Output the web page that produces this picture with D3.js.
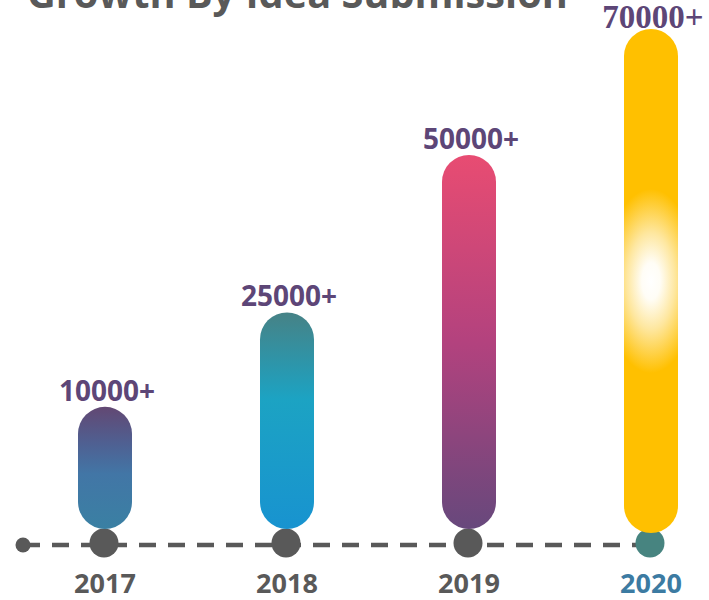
<!DOCTYPE html>
<html>
<head>
<meta charset="utf-8">
<script src="https://cdn.jsdelivr.net/npm/d3@7"></script>
<style>
  html, body { margin: 0; padding: 0; background: #ffffff; }
  svg { display: block; }
</style>
</head>
<body>
<svg id="chart" width="709" height="600"></svg>
<script>
// Idea submissions per year
const years = ["2017", "2018", "2019", "2020"];
const submissions = [10000, 25000, 50000, 70000];
const valueLabels = ["10000+", "25000+", "50000+", "70000+"];
const titleText = "Growth By Idea Submission";

// Gradient stops for each year's pill (top to bottom)
const barGradients = [
  [["0%", "#624873"], ["30%", "#4f6092"], ["55%", "#4276a6"], ["100%", "#3a80a3"]],
  [["0%", "#468286"], ["40%", "#1ca3c3"], ["100%", "#1893d0"]],
  [["0%", "#e84c72"], ["50%", "#b3427e"], ["100%", "#67487c"]],
  null
];

const svg = d3.select("#chart");
const barW = 54;
const baseY = 529;
const axisY = 545;

const x = d3.scalePoint().domain(years).range([105, 651]);
const y = d3.scaleLinear().domain([-9400, 70000]).range([baseY, 29]);

const defs = svg.append("defs");
years.forEach((yr, i) => {
  if (!barGradients[i]) return;
  const g = defs.append("linearGradient")
    .attr("id", "grad" + yr)
    .attr("x1", 0).attr("y1", 0).attr("x2", 0).attr("y2", 1);
  barGradients[i].forEach(([o, c]) => g.append("stop").attr("offset", o).attr("stop-color", c));
});

// Highlighted year: amber pill with a white glow in the middle
const lastIdx = years.length - 1;
const lastTop = y(submissions[lastIdx]);
const glowCx = x(years[lastIdx]), glowCy = (lastTop + baseY + 4) / 2;
const glow = defs.append("radialGradient")
  .attr("id", "glow")
  .attr("gradientUnits", "userSpaceOnUse")
  .attr("cx", glowCx).attr("cy", glowCy).attr("r", 115)
  .attr("fx", glowCx).attr("fy", glowCy)
  .attr("gradientTransform", `translate(${glowCx},${glowCy}) scale(0.5,1) translate(${-glowCx},${-glowCy})`);
[["0%", "#ffffff"], ["16%", "#fffdf6"], ["42%", "#fee79f"], ["80%", "#ffc000"], ["100%", "#ffc000"]]
  .forEach(([o, c]) => glow.append("stop").attr("offset", o).attr("stop-color", c));

// Title (runs past the top edge)
const title = svg.append("text")
  .attr("x", 27).attr("y", 8)
  .attr("font-family", "'Open Sans', sans-serif")
  .attr("font-weight", 700)
  .attr("font-size", 40)
  .attr("fill", "#595959")
  .text(titleText);
const tw = title.node().getComputedTextLength();
title.attr("font-size", 40 * 541 / tw);

// Timeline: dashed axis with a start dot and year markers
svg.append("line")
  .attr("x1", 23).attr("x2", 638)
  .attr("y1", axisY).attr("y2", axisY)
  .attr("stroke", "#595959")
  .attr("stroke-width", 4.5)
  .attr("stroke-dasharray", "17 12");

svg.append("circle")
  .attr("cx", 23).attr("cy", axisY).attr("r", 7.5)
  .attr("fill", "#595959");

svg.selectAll("circle.marker")
  .data(years)
  .enter().append("circle")
  .attr("class", "marker")
  .attr("cx", d => x(d) - 1)
  .attr("cy", 543)
  .attr("r", 14.5)
  .attr("fill", (d, i) => i === lastIdx ? "#478480" : "#595959");

// Pills
svg.selectAll("rect.bar")
  .data(submissions)
  .enter().append("rect")
  .attr("class", "bar")
  .attr("x", (d, i) => x(years[i]) - barW / 2)
  .attr("y", d => y(d))
  .attr("width", barW)
  .attr("height", (d, i) => baseY - y(d) + (i === lastIdx ? 4 : 0))
  .attr("rx", barW / 2).attr("ry", barW / 2)
  .attr("fill", (d, i) => barGradients[i] ? `url(#grad${years[i]})` : "url(#glow)");

// Value labels above each pill
svg.selectAll("text.value")
  .data(submissions)
  .enter().append("text")
  .attr("class", "value")
  .attr("x", (d, i) => x(years[i]) + 2)
  .attr("y", (d, i) => y(d) - (i === lastIdx ? 1 : 6))
  .attr("text-anchor", "middle")
  .attr("font-family", (d, i) => i === lastIdx ? "'Liberation Serif', serif" : "'Open Sans', sans-serif")
  .attr("font-weight", 700)
  .attr("font-size", (d, i) => i === lastIdx ? 33 : 28)
  .attr("fill", "#5d4677")
  .text((d, i) => valueLabels[i]);

// Year labels
svg.selectAll("text.year")
  .data(years)
  .enter().append("text")
  .attr("class", "year")
  .attr("x", d => x(d))
  .attr("y", 593)
  .attr("text-anchor", "middle")
  .attr("font-family", "'Open Sans', sans-serif")
  .attr("font-weight", 700)
  .attr("font-size", 27)
  .attr("fill", (d, i) => i === lastIdx ? "#3c7ba2" : "#595959")
  .text(d => d);
</script>
</body>
</html>
